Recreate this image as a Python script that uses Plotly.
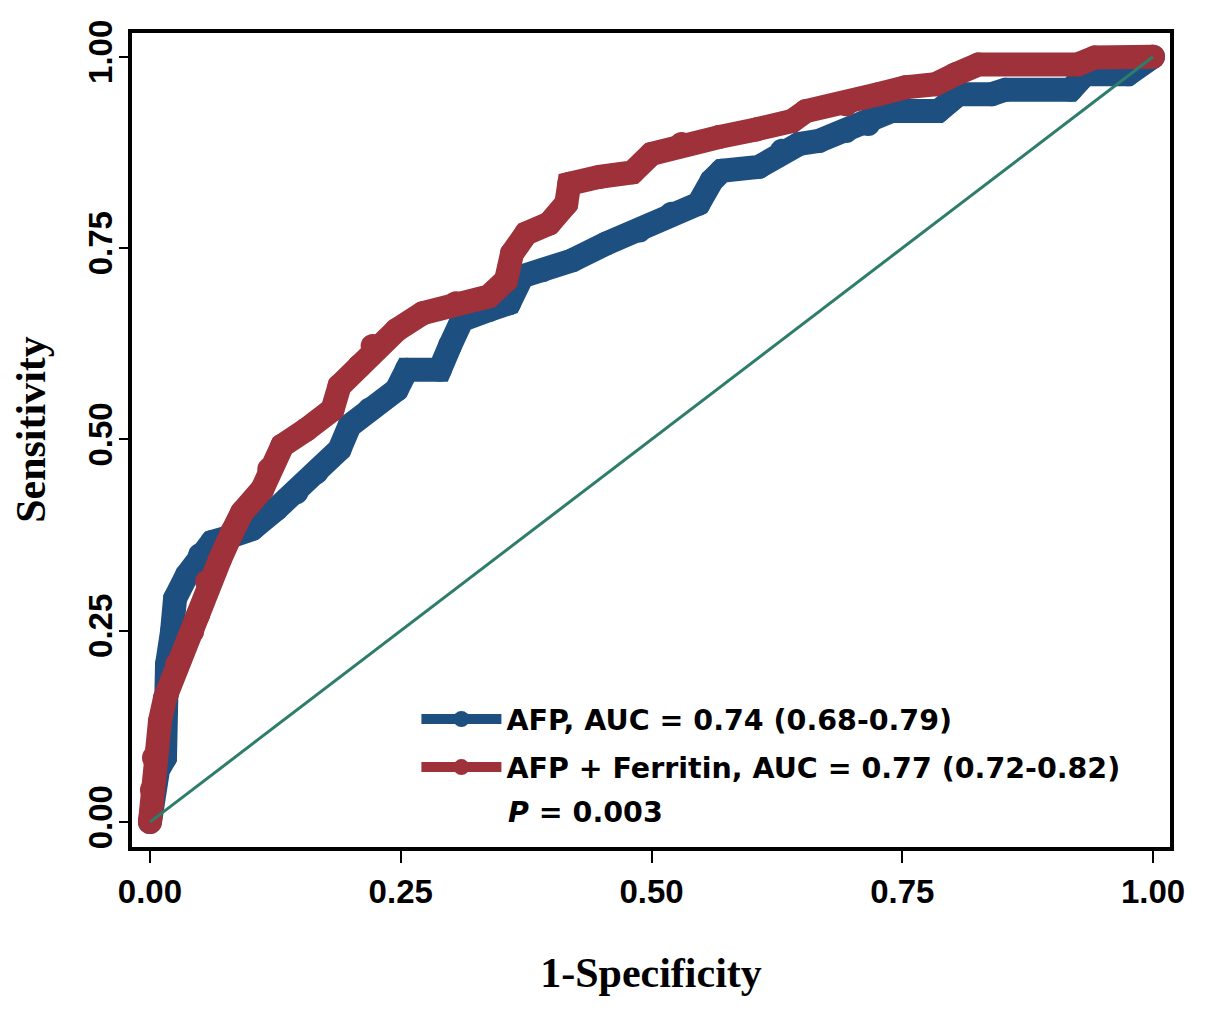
import plotly.graph_objects as go

# ROC curve for AFP alone (1-specificity, sensitivity)
afp_fpr = [0.0, 0.003, 0.008, 0.015, 0.015, 0.017, 0.017, 0.022, 0.025, 0.037, 0.050, 0.062,
           0.080, 0.102, 0.126, 0.146, 0.166, 0.189, 0.199, 0.219, 0.246, 0.256, 0.289, 0.299,
           0.311, 0.338, 0.358, 0.371, 0.391, 0.421, 0.455, 0.488, 0.520, 0.547, 0.560, 0.570,
           0.607, 0.630, 0.647, 0.667, 0.694, 0.716, 0.739, 0.786, 0.806, 0.839, 0.853, 0.918,
           0.932, 0.975, 1.0]
afp_tpr = [0.0, 0.042, 0.068, 0.084, 0.132, 0.168, 0.206, 0.249, 0.292, 0.323, 0.349, 0.366,
           0.373, 0.383, 0.409, 0.431, 0.457, 0.487, 0.518, 0.539, 0.565, 0.591, 0.591, 0.622,
           0.656, 0.669, 0.678, 0.713, 0.721, 0.734, 0.756, 0.773, 0.795, 0.808, 0.838, 0.851,
           0.856, 0.877, 0.886, 0.890, 0.903, 0.912, 0.929, 0.929, 0.951, 0.951, 0.957, 0.957,
           0.977, 0.977, 1.0]

# ROC curve for AFP + Ferritin
comb_fpr = [0.0, 0.002, 0.004, 0.010, 0.015, 0.027, 0.042, 0.048, 0.057, 0.070, 0.082, 0.092,
            0.112, 0.119, 0.132, 0.156, 0.182, 0.189, 0.209, 0.222, 0.246, 0.272, 0.305, 0.338,
            0.355, 0.361, 0.375, 0.398, 0.415, 0.418, 0.448, 0.481, 0.500, 0.530, 0.567, 0.604,
            0.640, 0.654, 0.694, 0.726, 0.753, 0.783, 0.803, 0.826, 0.925, 0.942, 1.0]
comb_tpr = [0.0, 0.042, 0.084, 0.132, 0.162, 0.206, 0.249, 0.271, 0.314, 0.344, 0.379, 0.405,
            0.435, 0.461, 0.492, 0.513, 0.539, 0.570, 0.596, 0.622, 0.643, 0.665, 0.678, 0.687,
            0.708, 0.743, 0.769, 0.782, 0.808, 0.834, 0.843, 0.849, 0.873, 0.886, 0.895, 0.905,
            0.916, 0.929, 0.938, 0.951, 0.960, 0.964, 0.977, 0.990, 0.990, 0.999, 1.0]

# reference (chance) line
ref_x = [0, 1]
ref_y = [0, 1]

names = ["AFP, AUC = 0.74 (0.68-0.79)", "AFP + Ferritin, AUC = 0.77 (0.72-0.82)"]
p_text = "<i>P</i> = 0.003"

tick_vals = [0, 0.25, 0.5, 0.75, 1.0]
tick_text = ["0.00", "0.25", "0.50", "0.75", "1.00"]

blue = "#1D4F80"
red = "#9E3139"
green = "#2E7D6B"

fig = go.Figure()
fig.add_trace(go.Scatter(x=afp_fpr, y=afp_tpr, mode="lines+markers", name=names[0],
                         legendgroup="a",
                         line=dict(color=blue, width=24),
                         marker=dict(color=blue, size=24)))
fig.add_trace(go.Scatter(x=comb_fpr, y=comb_tpr, mode="lines+markers", name=names[1],
                         legendgroup="b",
                         line=dict(color=red, width=24),
                         marker=dict(color=red, size=24)))
fig.add_trace(go.Scatter(x=ref_x, y=ref_y, mode="lines", showlegend=False,
                         line=dict(color=green, width=3)))

axis_font = dict(family="Liberation Sans", size=33, color="black", weight="bold")
title_font = dict(family="Liberation Serif", size=42, color="black", weight="bold")
legend_font = dict(family="DejaVu Sans", size=28.5, color="black", weight="bold")

# page body has an 8px margin, so the figure is a little smaller than the window
fig.update_layout(
    width=1189, height=995,
    margin=dict(l=124, r=25, t=20, b=156),
    paper_bgcolor="white", plot_bgcolor="white",
    legend=dict(x=0.274, y=0.188, xanchor="left", yanchor="top",
                bgcolor="rgba(0,0,0,0)", itemwidth=80, traceorder="grouped",
                tracegroupgap=8, font=legend_font),
    annotations=[dict(text=p_text, x=0.3606, y=0.0427, xref="paper", yref="paper",
                      xanchor="left", yanchor="middle", showarrow=False,
                      font=legend_font)],
)

fig.update_xaxes(range=[-0.0179, 1.0169], tickvals=tick_vals, ticktext=tick_text,
                 ticks="outside", ticklen=12, tickwidth=1.5, tickcolor="black",
                 showline=True, linecolor="black", linewidth=4, mirror=True,
                 showgrid=False, zeroline=False, tickfont=axis_font,
                 title=dict(text="1-Specificity", font=title_font, standoff=50))
fig.update_yaxes(range=[-0.0325, 1.031], tickvals=tick_vals, ticktext=tick_text,
                 ticks="outside", ticklen=9, tickwidth=1.5, tickcolor="black",
                 showline=True, linecolor="black", linewidth=4, mirror=True,
                 showgrid=False, zeroline=False, tickfont=axis_font, tickangle=-90,
                 ticklabelstandoff=-6,
                 title=dict(text="&nbsp;&nbsp;Sensitivity", font=title_font, standoff=30))

fig.write_html("out.html")
